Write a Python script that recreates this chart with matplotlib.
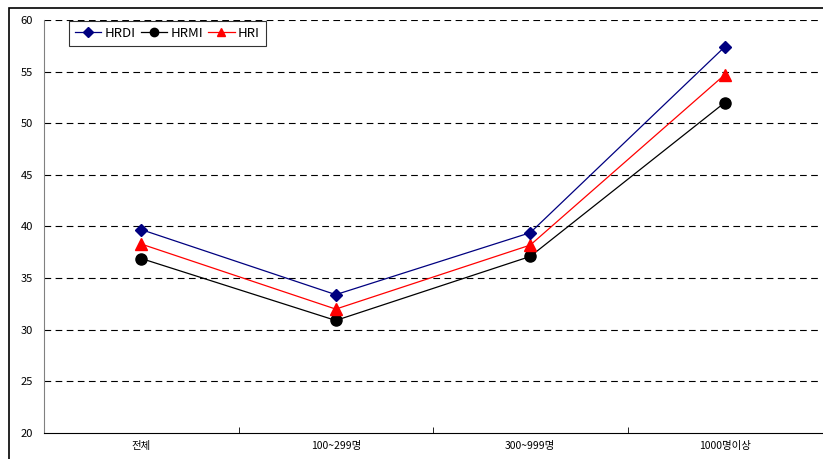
import numpy as np
import matplotlib.pyplot as plt
from matplotlib.patches import Rectangle

plt.rcParams['font.family']=['Noto Sans CJK KR','DejaVu Sans']

categories=['전체','100~299명','300~999명','1000명이상']
hrdi=[39.7,33.4,39.4,57.4]
hrmi=[36.9,30.9,37.1,52.0]
hri=[38.3,32.0,38.2,54.7]

fig=plt.figure(figsize=(8.23,4.59),dpi=100)
# outer chart frame (right/bottom edges run off the picture)
fig.patches.append(Rectangle((9/823,-0.1),1.2,1-8/459+0.1,transform=fig.transFigure,
                             fill=False,edgecolor='black',linewidth=1.2,zorder=0))

ax=fig.add_axes([44/823,1-433/459,(822-44)/823,(433-20)/459])
x=np.arange(len(categories))

ax.plot(x,hrdi,color='#000080',marker='D',markersize=6.5,linewidth=0.9,label='HRDI',zorder=4)
ax.plot(x,hrmi,color='black',marker='o',markersize=8,linewidth=0.9,label='HRMI',zorder=3)
ax.plot(x,hri,color='red',marker='^',markersize=8.5,linewidth=0.9,label='HRI',zorder=3)

ax.set_xlim(-0.5,len(categories)-0.5)
ax.set_ylim(20,60)
ax.set_yticks(np.arange(20,61,5))
ax.set_xticks(x)
ax.set_xticklabels(categories,fontsize=7.5)
ax.set_xticks(np.arange(0.5,len(categories)-0.5,1),minor=True)
ax.tick_params(axis='x',which='major',length=0,pad=6)
ax.tick_params(axis='x',which='minor',length=4,direction='in')
ax.tick_params(axis='y',length=0,labelsize=8,pad=8)

for v in np.arange(25,61,5):
    ax.axhline(v,color='black',linestyle=(0,(6,4)),linewidth=0.8,zorder=1)

for s in ['top','right']:
    ax.spines[s].set_visible(False)
ax.spines['left'].set_color('#808080')
ax.spines['bottom'].set_color('black')

leg=ax.legend(loc='upper left',ncol=3,bbox_to_anchor=(24/778,1.0),borderaxespad=0.05,
              frameon=True,fancybox=False,edgecolor='black',fontsize=9.5,handlelength=2.0,
              columnspacing=0.4,handletextpad=0.25,borderpad=0.45,markerscale=0.75)
leg.get_frame().set_linewidth(0.8)

fig.savefig('out.png',dpi=100)
